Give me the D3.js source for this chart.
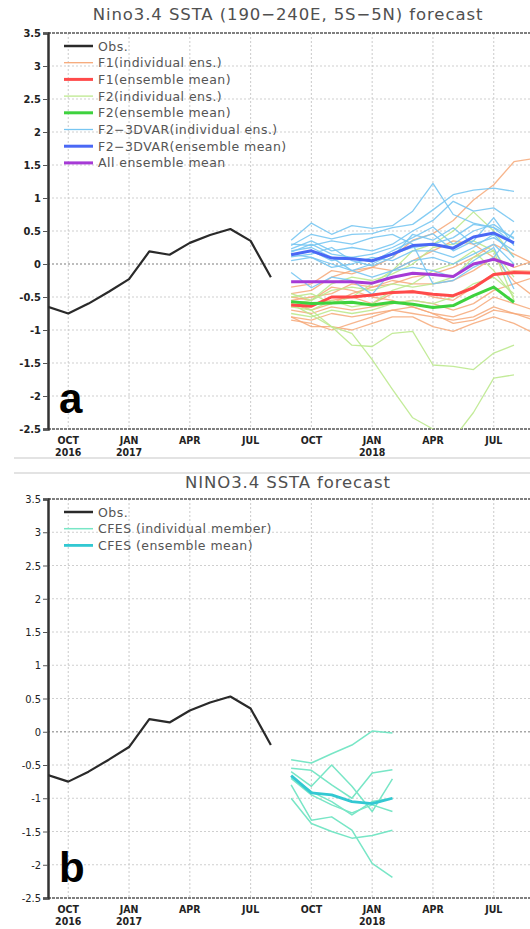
<!DOCTYPE html>
<html>
<head>
<meta charset="utf-8">
<script src="https://cdn.jsdelivr.net/npm/d3@7"></script>
<style>
  body { margin: 0; background: #fff; }
  svg { display: block; }
</style>
</head>
<body>
<div id="chart"></div>
<script>

// month index 0 = SEP 2016
var obsStart = 0,
    obsValues = [-0.65, -0.75, -0.6, -0.42, -0.23, 0.19, 0.14, 0.32, 0.44, 0.53, 0.35, -0.2];

var fcStart = 12; // SEP 2017

var f1Members = [
    [-0.35, -0.3, -0.1, -0.15, -0.05, 0.1, 0.36, 0.46, 0.66, 0.97, 1.2, 1.55, 1.6],
    [-0.45, -0.4, -0.2, -0.1, -0.05, -0.1, 0.05, 0.2, 0.35, 0.3, 0.1, -0.26, -0.5],
    [-0.55, -0.5, -0.45, -0.3, -0.35, -0.25, -0.3, -0.3, -0.25, -0.1, 0.1, -0.05, 0.05],
    [-0.65, -0.6, -0.55, -0.5, -0.6, -0.45, -0.4, -0.5, -0.55, -0.35, -0.15, -0.1, -0.11],
    [-0.7, -0.75, -0.65, -0.7, -0.65, -0.6, -0.55, -0.6, -0.7, -0.6, -0.4, -0.3, -0.2],
    [-0.8, -0.85, -0.75, -0.8, -0.75, -0.7, -0.65, -0.75, -0.8, -0.7, -0.5, -0.6, -0.7],
    [-0.8, -0.95, -0.95, -1.0, -0.9, -0.8, -0.8, -0.95, -1.02, -0.9, -0.8, -0.9, -1.05],
    [-0.85, -0.9, -1.0, -0.9, -0.8, -0.7, -0.75, -0.8, -0.85, -0.8, -0.65, -0.75, -0.85],
    [-0.6, -0.7, -0.6, -0.45, -0.35, -0.3, -0.2, -0.15, -0.05, 0.1, 0.3, 0.15, 0.0],
    [-0.5, -0.55, -0.35, -0.4, -0.5, -0.55, -0.65, -0.75, -0.9, -0.85, -0.7, -0.75, -0.8]
];
var f1Mean = [-0.62, -0.64, -0.5, -0.5, -0.47, -0.43, -0.42, -0.46, -0.48, -0.36, -0.16, -0.13, -0.14];

var f2Members = [
    [-0.6, -0.77, -0.95, -1.05, -1.45, -1.9, -2.33, -2.5, -2.65, -2.25, -1.73, -1.68],
    [-0.55, -0.7, -0.95, -1.23, -1.25, -1.05, -1.02, -1.53, -1.55, -1.6, -1.35, -1.23],
    [-0.5, -0.45, -0.6, -0.5, -0.3, -0.1, 0.2, 0.3, 0.5, 0.79, 0.5, 0.1],
    [-0.65, -0.7, -0.55, -0.65, -0.6, -0.4, -0.3, -0.1, 0.0, 0.2, -0.1, -0.5],
    [-0.45, -0.55, -0.3, -0.2, -0.25, -0.15, 0.0, 0.25, 0.3, 0.35, 0.2, -0.2],
    [-0.75, -0.8, -0.7, -0.75, -0.7, -0.6, -0.55, -0.6, -0.5, -0.3, -0.2, -0.45],
    [-0.6, -0.55, -0.4, -0.35, -0.4, -0.3, -0.35, -0.3, -0.2, 0.1, 0.2, -0.55]
];
var f2Mean = [-0.57, -0.6, -0.59, -0.58, -0.62, -0.58, -0.61, -0.66, -0.63, -0.48, -0.35, -0.58];

var varMembers = [
    [0.36, 0.62, 0.45, 0.58, 0.54, 0.58, 0.8, 1.22, 0.75, 0.62, 0.55, 0.4],
    [0.28, 0.45, 0.38, 0.45, 0.46, 0.55, 0.6, 0.82, 1.05, 1.12, 1.15, 1.1],
    [0.23, 0.35, 0.2, 0.25, 0.2, 0.3, 0.5, 0.66, 0.95, 0.8, 0.85, 0.64],
    [0.18, 0.3, 0.15, 0.1, 0.15, 0.25, 0.4, 0.56, 0.3, 0.5, 0.6, 0.38],
    [0.14, 0.2, 0.05, 0.1, 0.03, 0.2, 0.35, 0.46, 0.2, 0.35, 0.7, 0.28],
    [0.11, 0.15, 0.25, 0.05, -0.03, 0.1, 0.45, 0.36, 0.55, 0.3, 0.4, 0.2],
    [0.05, 0.1, -0.05, 0.0, 0.1, 0.05, 0.2, 0.2, 0.1, 0.25, 0.45, 0.1],
    [-0.13, -0.36, -0.2, -0.25, -0.46, -0.1, 0.05, 0.1, 0.0, 0.15, 0.3, 0.0],
    [0.2, 0.25, 0.1, -0.1, -0.2, -0.1, -0.05, -0.1, -0.2, 0.05, 0.25, -0.38],
    [0.3, 0.28, 0.35, 0.3, 0.4, 0.45, 0.3, -0.3, -0.25, -0.05, 0.1, 0.5],
    [0.15, 0.1, 0.0, -0.1, 0.0, 0.15, 0.25, 0.3, 0.4, 0.6, 0.55, 0.3]
];
var varMean = [0.14, 0.2, 0.09, 0.08, 0.05, 0.15, 0.28, 0.3, 0.24, 0.41, 0.47, 0.32];

var allMean = [-0.27, -0.27, -0.27, -0.27, -0.29, -0.2, -0.14, -0.16, -0.19, 0.0, 0.07, -0.03];

var cfesMembers = [
    [-0.42, -0.47, -0.33, -0.2, 0.01, -0.02],
    [-0.55, -0.58, -0.8, -1.0, -0.62, -0.57],
    [-0.6, -0.82, -0.5, -0.82, -1.2, -0.71],
    [-0.8, -1.33, -1.28, -1.48, -1.98, -2.19],
    [-1.0, -1.38, -1.5, -1.6, -1.56, -1.48],
    [-0.67, -0.9, -1.05, -1.25, -1.05, -1.0],
    [-0.7, -0.95, -1.1, -1.22, -1.1, -1.2]
];
var cfesMean = [-0.66, -0.92, -0.95, -1.05, -1.08, -1.0];

var yTicks = [-2.5, -2, -1.5, -1, -0.5, 0, 0.5, 1, 1.5, 2, 2.5, 3, 3.5];
var xTickMonths = [1, 4, 7, 10, 13, 16, 19, 22];
var xTickLabels = [["OCT", "2016"], ["JAN", "2017"], ["APR", ""], ["JUL", ""],
                   ["OCT", ""], ["JAN", "2018"], ["APR", ""], ["JUL", ""]];

var colors = {
    obs : "#2a2a2a",
    f1 : "#f6a878", f1m : "#ff4a4a",
    f2 : "#bde98e", f2m : "#3ed23e",
    v : "#78c6f2", vm : "#4a68f5",
    all : "#a63ad6",
    cfes : "#78e6c6", cfesm : "#32c8d2"
};

var width = 530, height = 929;

var svg = d3.select("#chart").append("svg")
    .attr("width", width)
    .attr("height", height);

var tickFont = "'Liberation Sans Narrow', 'DejaVu Sans Condensed', sans-serif";
var textFont = "'DejaVu Sans', sans-serif";

// separator lines between the two panels
svg.selectAll(".sep")
    .data([458, 473])
    .enter()
    .append("line")
    .attr("x1", 14).attr("x2", width)
    .attr("y1", function (d) { return d; })
    .attr("y2", function (d) { return d; })
    .attr("stroke", "#c8c8c8")
    .attr("stroke-width", 1.2);

function drawPanel (p) {

    var x = d3.scaleLinear().domain([0, 23.79]).range([48, 530]),
        y = d3.scaleLinear().domain([-2.5, 3.5]).range([p.bottom, p.top]);

    var g = svg.append("g");

    g.append("defs").append("clipPath")
        .attr("id", "clip" + p.id)
        .append("rect")
        .attr("x", 48).attr("y", p.top)
        .attr("width", 482).attr("height", p.bottom - p.top);

    // title
    g.append("text")
        .attr("x", 288)
        .attr("y", p.titleY)
        .attr("text-anchor", "middle")
        .style("font-family", textFont)
        .style("font-size", "16.5px")
        .style("letter-spacing", "0.9px")
        .style("fill", "#505050")
        .text(p.title);

    // horizontal grid
    g.selectAll(".hgrid")
        .data(yTicks.filter(function (d) { return d > -2.5 && d < 3.5; }))
        .enter()
        .append("line")
        .attr("x1", 48).attr("x2", 530)
        .attr("y1", function (d) { return y(d); })
        .attr("y2", function (d) { return y(d); })
        .attr("stroke", function (d) { return d === 0 ? "#a8a8a8" : "#cfcfcf"; })
        .attr("stroke-width", function (d) { return d === 0 ? 1.6 : 1.1; })
        .attr("stroke-dasharray", "2,2");

    // vertical grid
    g.selectAll(".vgrid")
        .data(xTickMonths)
        .enter()
        .append("line")
        .attr("x1", function (d) { return x(d); })
        .attr("x2", function (d) { return x(d); })
        .attr("y1", p.top).attr("y2", p.bottom)
        .attr("stroke", "#cfcfcf")
        .attr("stroke-width", 1.1)
        .attr("stroke-dasharray", "2,2");

    // frame top / bottom
    g.selectAll(".frame")
        .data([3.5, -2.5])
        .enter()
        .append("line")
        .attr("x1", 48).attr("x2", 530)
        .attr("y1", function (d) { return y(d); })
        .attr("y2", function (d) { return y(d); })
        .attr("stroke", "#555")
        .attr("stroke-width", 1.3)
        .attr("stroke-dasharray", "3,1");

    // y axis
    var yAxis = d3.axisLeft(y)
        .tickValues(yTicks)
        .tickSize(5)
        .tickFormat(function (d) { return d3.format("")(d).replace("\u2212", "-"); });

    var ya = g.append("g")
        .attr("transform", "translate(48,0)")
        .call(yAxis);
    ya.select(".domain")
        .attr("stroke", "#333")
        .attr("stroke-width", 2.5);
    ya.selectAll(".tick line").attr("stroke", "#555");
    ya.selectAll(".tick text")
        .attr("x", -7)
        .style("font-family", tickFont)
        .style("font-weight", p.boldTicks ? "bold" : "normal")
        .style("font-size", "11px")
        .style("fill", "#222");

    // x axis labels
    var xl = g.selectAll(".xlab")
        .data(xTickMonths)
        .enter()
        .append("text")
        .attr("x", function (d) { return x(d); })
        .attr("y", p.bottom + 15)
        .attr("text-anchor", "middle")
        .style("font-family", tickFont)
        .style("font-weight", "bold")
        .style("font-size", "10.5px")
        .style("fill", "#222");
    xl.append("tspan")
        .attr("x", function (d) { return x(d); })
        .text(function (d, i) { return xTickLabels[i][0]; });
    xl.append("tspan")
        .attr("x", function (d) { return x(d); })
        .attr("dy", 12)
        .text(function (d, i) { return xTickLabels[i][1]; });

    var line = d3.line()
        .x(function (d) { return x(d.m); })
        .y(function (d) { return y(d.v); });

    function toPts (vals, start) {
        return vals.map(function (v, i) { return { m : start + i, v : v }; });
    }

    var plot = g.append("g").attr("clip-path", "url(#clip" + p.id + ")");

    p.series.forEach(function (s) {
        plot.selectAll(null)
            .data(s.data)
            .enter()
            .append("path")
            .attr("d", function (d) { return line(toPts(d, s.start)); })
            .attr("fill", "none")
            .attr("stroke", s.color)
            .attr("stroke-width", s.width)
            .attr("stroke-opacity", s.opacity || 1)
            .attr("stroke-linejoin", "round");
    });

    // legend
    var leg = g.selectAll(".leg")
        .data(p.legend)
        .enter()
        .append("g")
        .attr("transform", function (d, i) { return "translate(0," + (p.top + 13 + i * 16.7) + ")"; });
    leg.append("line")
        .attr("x1", 64).attr("x2", 93)
        .attr("stroke", function (d) { return d.color; })
        .attr("stroke-width", function (d) { return d.width; });
    leg.append("text")
        .attr("x", 98)
        .attr("y", 4.5)
        .style("font-family", textFont)
        .style("font-size", "12.5px")
        .style("letter-spacing", "0.45px")
        .style("fill", "#555")
        .text(function (d) { return d.label; });

    // panel letter
    g.append("text")
        .attr("x", 59)
        .attr("y", p.bottom - 16)
        .style("font-family", "'Liberation Sans', sans-serif")
        .style("font-weight", "bold")
        .style("font-size", "42px")
        .style("fill", "#000")
        .text(p.letter);
}

drawPanel({
    id : "a",
    top : 33, bottom : 429, titleY : 20,
    title : "Nino3.4 SSTA (190\u2212240E, 5S\u22125N) forecast",
    letter : "a",
    boldTicks : true,
    series : [
        { data : f1Members, start : fcStart, color : colors.f1, width : 1.3, opacity : 0.85 },
        { data : f2Members, start : fcStart, color : colors.f2, width : 1.3, opacity : 0.9 },
        { data : varMembers, start : fcStart, color : colors.v, width : 1.3, opacity : 0.9 },
        { data : [f1Mean], start : fcStart, color : colors.f1m, width : 3 },
        { data : [f2Mean], start : fcStart, color : colors.f2m, width : 3 },
        { data : [varMean], start : fcStart, color : colors.vm, width : 3 },
        { data : [allMean], start : fcStart, color : colors.all, width : 3 },
        { data : [obsValues], start : obsStart, color : colors.obs, width : 2.2 }
    ],
    legend : [
        { label : "Obs.", color : colors.obs, width : 2.5 },
        { label : "F1(individual ens.)", color : colors.f1, width : 1.3 },
        { label : "F1(ensemble mean)", color : colors.f1m, width : 3 },
        { label : "F2(individual ens.)", color : colors.f2, width : 1.3 },
        { label : "F2(ensemble mean)", color : colors.f2m, width : 3 },
        { label : "F2\u22123DVAR(individual ens.)", color : colors.v, width : 1.3 },
        { label : "F2\u22123DVAR(ensemble mean)", color : colors.vm, width : 3 },
        { label : "All ensemble mean", color : colors.all, width : 3 }
    ]
});

drawPanel({
    id : "b",
    top : 499, bottom : 898, titleY : 488,
    title : "NINO3.4 SSTA forecast",
    letter : "b",
    boldTicks : false,
    series : [
        { data : cfesMembers, start : fcStart, color : colors.cfes, width : 1.5 },
        { data : [cfesMean], start : fcStart, color : colors.cfesm, width : 2.8 },
        { data : [obsValues], start : obsStart, color : colors.obs, width : 2.2 }
    ],
    legend : [
        { label : "Obs.", color : colors.obs, width : 2.5 },
        { label : "CFES (individual member)", color : colors.cfes, width : 1.5 },
        { label : "CFES (ensemble mean)", color : colors.cfesm, width : 2.8 }
    ]
});

</script>
</body>
</html>
